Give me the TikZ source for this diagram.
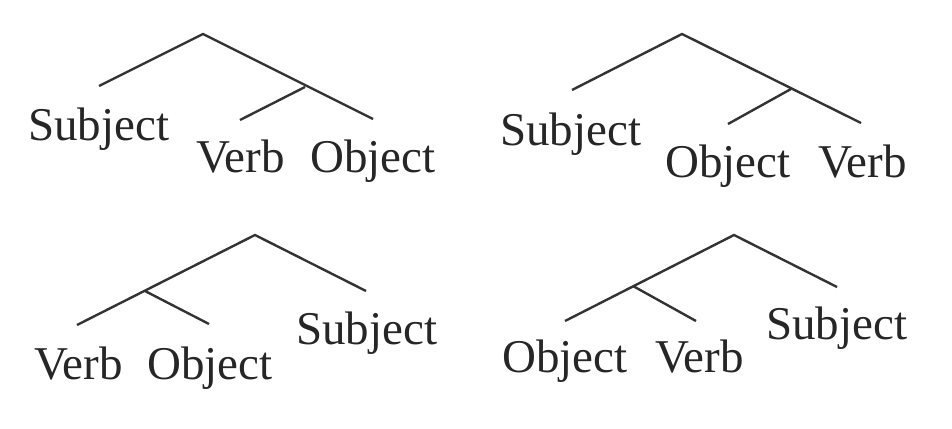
\documentclass[tikz,border=0pt]{standalone}
\usepackage{fontspec}
\setmainfont{Liberation Serif}
\usepackage{tikz}
\usetikzlibrary{positioning}

\definecolor{inkgray}{HTML}{333333}
\tikzset{
  word/.style={anchor=base west, inner sep=0pt, text=black!85, font=\fontsize{47}{56}\selectfont},
  branch/.style={draw=inkgray, line width=2.4pt}
}

\begin{document}
\begin{tikzpicture}[x=1pt, y=-1pt]
\useasboundingbox (0,0) rectangle (952,428);

% Tree 1: Subject [Verb Object]
\coordinate (r1) at (203,34);
\coordinate (s1) at (99,86);
\coordinate (o1) at (373,119);
\coordinate (m1) at (305,87);
\coordinate (v1) at (240,120);
\node[word] (subj1) at (28,140) {Subject};
\node[word] (verb1) at (196,172) {Verb};
\node[word] (obj1) at (310,172) {Object};
\draw[branch] (s1) -- (r1) -- (o1);
\draw[branch] (m1) -- (v1);

% Tree 2: Subject [Object Verb]
\coordinate (r2) at (682,34);
\coordinate (s2) at (572,90);
\coordinate (v2) at (861,123);
\coordinate (m2) at (791,89);
\coordinate (o2) at (728,124);
\node[word] (subj2) at (500,145) {Subject};
\node[word] (obj2) at (665,177) {Object};
\node[word] (verb2) at (818,177) {Verb};
\draw[branch] (s2) -- (r2) -- (v2);
\draw[branch] (m2) -- (o2);

% Tree 3: [Verb Object] Subject
\coordinate (r3) at (255,235);
\coordinate (v3) at (77,325);
\coordinate (s3) at (366,291);
\coordinate (m3) at (145,291);
\coordinate (o3) at (209,324);
\node[word] (verb3) at (34,379) {Verb};
\node[word] (obj3) at (147,379) {Object};
\node[word] (subj3) at (296,344) {Subject};
\draw[branch] (v3) -- (r3) -- (s3);
\draw[branch] (m3) -- (o3);

% Tree 4: [Object Verb] Subject
\coordinate (r4) at (734,235);
\coordinate (o4) at (565,321);
\coordinate (s4) at (837,287);
\coordinate (m4) at (633,286);
\coordinate (v4) at (696,321);
\node[word] (obj4) at (502,372) {Object};
\node[word] (verb4) at (655,372) {Verb};
\node[word] (subj4) at (766,339) {Subject};
\draw[branch] (o4) -- (r4) -- (s4);
\draw[branch] (m4) -- (v4);
\end{tikzpicture}
\end{document}
